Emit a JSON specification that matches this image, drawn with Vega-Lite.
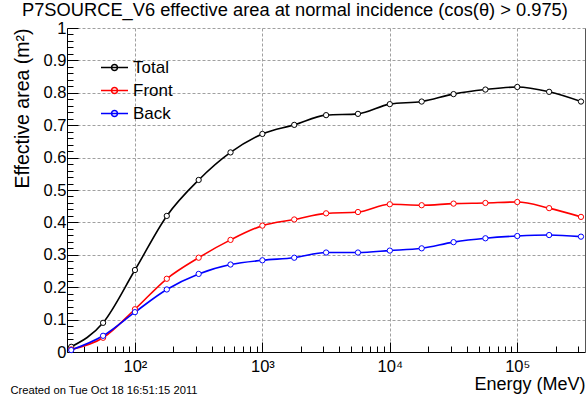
{
  "$schema": "https://vega.github.io/schema/vega-lite/v6.json",
  "width": 518,
  "height": 324,
  "autosize": "none",
  "padding": {"left": 67, "top": 28, "right": 3, "bottom": 48},
  "background": "white",
  "config": {
    "font": "Liberation Sans",
    "view": {"stroke": null},
    "axis": {
      "domainColor": "black",
      "tickColor": "black",
      "labelColor": "black",
      "titleColor": "black",
      "labelFont": "Liberation Sans",
      "titleFont": "Liberation Sans",
      "titleFontWeight": "normal"
    }
  },
  "title": {
    "text": "P7SOURCE_V6 effective area at normal incidence (cos(θ) > 0.975)",
    "anchor": "start",
    "frame": "group",
    "dx": -45,
    "dy": 15.5,
    "offset": 1,
    "baseline": "alphabetic",
    "fontSize": 18.3,
    "fontWeight": "normal",
    "font": "Liberation Sans",
    "color": "black"
  },
  "data": {
    "values": [
      {"energy": 31.62, "series": "Total", "area": 0.016},
      {"energy": 56.23, "series": "Total", "area": 0.09},
      {"energy": 100, "series": "Total", "area": 0.253},
      {"energy": 177.8, "series": "Total", "area": 0.42},
      {"energy": 316.2, "series": "Total", "area": 0.531},
      {"energy": 562.3, "series": "Total", "area": 0.616},
      {"energy": 1000, "series": "Total", "area": 0.673},
      {"energy": 1778, "series": "Total", "area": 0.701},
      {"energy": 3162, "series": "Total", "area": 0.731},
      {"energy": 5623, "series": "Total", "area": 0.735},
      {"energy": 10000, "series": "Total", "area": 0.765},
      {"energy": 17783, "series": "Total", "area": 0.773},
      {"energy": 31623, "series": "Total", "area": 0.796},
      {"energy": 56234, "series": "Total", "area": 0.81},
      {"energy": 100000, "series": "Total", "area": 0.818},
      {"energy": 177828, "series": "Total", "area": 0.803},
      {"energy": 316228, "series": "Total", "area": 0.773},
      {"energy": 31.62, "series": "Front", "area": 0.008},
      {"energy": 56.23, "series": "Front", "area": 0.044},
      {"energy": 100, "series": "Front", "area": 0.132},
      {"energy": 177.8, "series": "Front", "area": 0.226},
      {"energy": 316.2, "series": "Front", "area": 0.291},
      {"energy": 562.3, "series": "Front", "area": 0.346},
      {"energy": 1000, "series": "Front", "area": 0.39},
      {"energy": 1778, "series": "Front", "area": 0.409},
      {"energy": 3162, "series": "Front", "area": 0.428},
      {"energy": 5623, "series": "Front", "area": 0.432},
      {"energy": 10000, "series": "Front", "area": 0.456},
      {"energy": 17783, "series": "Front", "area": 0.453},
      {"energy": 31623, "series": "Front", "area": 0.458},
      {"energy": 56234, "series": "Front", "area": 0.46},
      {"energy": 100000, "series": "Front", "area": 0.463},
      {"energy": 177828, "series": "Front", "area": 0.444},
      {"energy": 316228, "series": "Front", "area": 0.417},
      {"energy": 31.62, "series": "Back", "area": 0.006},
      {"energy": 56.23, "series": "Back", "area": 0.05},
      {"energy": 100, "series": "Back", "area": 0.123},
      {"energy": 177.8, "series": "Back", "area": 0.193},
      {"energy": 316.2, "series": "Back", "area": 0.241},
      {"energy": 562.3, "series": "Back", "area": 0.27},
      {"energy": 1000, "series": "Back", "area": 0.283},
      {"energy": 1778, "series": "Back", "area": 0.291},
      {"energy": 3162, "series": "Back", "area": 0.307},
      {"energy": 5623, "series": "Back", "area": 0.307},
      {"energy": 10000, "series": "Back", "area": 0.313},
      {"energy": 17783, "series": "Back", "area": 0.32},
      {"energy": 31623, "series": "Back", "area": 0.339},
      {"energy": 56234, "series": "Back", "area": 0.351},
      {"energy": 100000, "series": "Back", "area": 0.358},
      {"energy": 177828, "series": "Back", "area": 0.361},
      {"energy": 316228, "series": "Back", "area": 0.356}
    ]
  },
  "layer": [
    {
      "mark": {"type": "point", "opacity": 0},
      "encoding": {
        "x": {
          "field": "energy", "type": "quantitative",
          "axis": {
            "orient": "bottom",
            "values": [40, 50, 60, 70, 80, 90, 200, 300, 400, 500, 600, 700, 800, 900, 2000, 3000, 4000, 5000, 6000, 7000, 8000, 9000, 20000, 30000, 40000, 50000, 60000, 70000, 80000, 90000, 200000, 300000],
            "labels": false, "domain": false, "grid": false, "tickSize": -6,
            "title": "Created on Tue Oct 18 16:51:15 2011",
            "titleFontSize": 11.2, "titleX": -57, "titleY": 41, "titleAlign": "left", "titleBaseline": "alphabetic", "titleAnchor": "start"
          }
        },
        "y": {
          "field": "area", "type": "quantitative",
          "axis": {
            "orient": "left",
            "values": [0.02, 0.04, 0.06, 0.08, 0.12, 0.14, 0.16, 0.18, 0.22, 0.24, 0.26, 0.28, 0.32, 0.34, 0.36, 0.38, 0.42, 0.44, 0.46, 0.48, 0.52, 0.54, 0.56, 0.58, 0.62, 0.64, 0.66, 0.68, 0.72, 0.74, 0.76, 0.78, 0.82, 0.84, 0.86, 0.88, 0.92, 0.94, 0.96, 0.98],
            "labels": false, "domain": false, "grid": false, "tickSize": -6, "title": null
          }
        }
      }
    },
    {
      "mark": {"type": "point", "opacity": 0},
      "encoding": {
        "y": {
          "field": "area", "type": "quantitative",
          "axis": {"orient": "right", "labels": false, "ticks": false, "grid": false, "domain": true, "domainColor": "#555", "title": null}
        }
      }
    },
    {
      "mark": {
        "type": "line", "interpolate": "monotone", "strokeWidth": 1.6,
        "point": {"filled": false, "fill": "white", "size": 28, "strokeWidth": 1}
      },
      "encoding": {
        "x": {
          "field": "energy", "type": "quantitative",
          "scale": {"type": "log", "domain": [29.3, 340000], "nice": false},
          "axis": {
            "orient": "bottom",
            "values": [100, 1000, 10000, 100000],
            "labelExpr": "'10' + (datum.value == 100 ? '²' : datum.value == 1000 ? '³' : datum.value == 10000 ? '⁴' : '⁵')",
            "tickSize": -10, "labelPadding": 16, "labelBaseline": "top", "labelFontSize": 16.5, "labelFlush": false,
            "grid": true, "gridDash": [3, 2], "gridColor": "#a0a0a0",
            "title": "Energy (MeV)", "titleFontSize": 18, "titleAnchor": "end", "titleAlign": "right",
            "titleX": 518, "titleY": 37, "titleBaseline": "alphabetic"
          }
        },
        "y": {
          "field": "area", "type": "quantitative",
          "scale": {"domain": [0, 1], "nice": false},
          "axis": {
            "orient": "left",
            "values": [0, 0.1, 0.2, 0.3, 0.4, 0.5, 0.6, 0.7, 0.8, 0.9, 1],
            "format": "~g",
            "tickSize": -11, "labelPadding": 12, "labelFontSize": 16.5, "labelFlush": false,
            "grid": true, "gridDash": [3, 2], "gridColor": "#a0a0a0",
            "title": "Effective area (m²)", "titleFontSize": 19.5, "titleX": -45, "titleY": 0,
            "titleAngle": -90, "titleAlign": "right", "titleBaseline": "middle"
          }
        },
        "color": {
          "field": "series", "type": "nominal",
          "scale": {"domain": ["Total", "Front", "Back"], "range": ["#000000", "#ff0000", "#0000ff"]},
          "legend": {
            "orient": "none", "legendX": 33, "legendY": 25, "title": null,
            "symbolType": "M-1,0H1M0.22,0A0.22,0.22,0,1,1,-0.22,0A0.22,0.22,0,1,1,0.22,0",
            "symbolSize": 729, "symbolStrokeWidth": 1.5, "symbolFillColor": "transparent",
            "labelFontSize": 17, "labelFont": "Liberation Sans", "labelColor": "black", "labelOffset": 4, "rowPadding": -1
          }
        }
      }
    }
  ],
  "resolve": {"axis": {"x": "independent", "y": "independent"}}
}
